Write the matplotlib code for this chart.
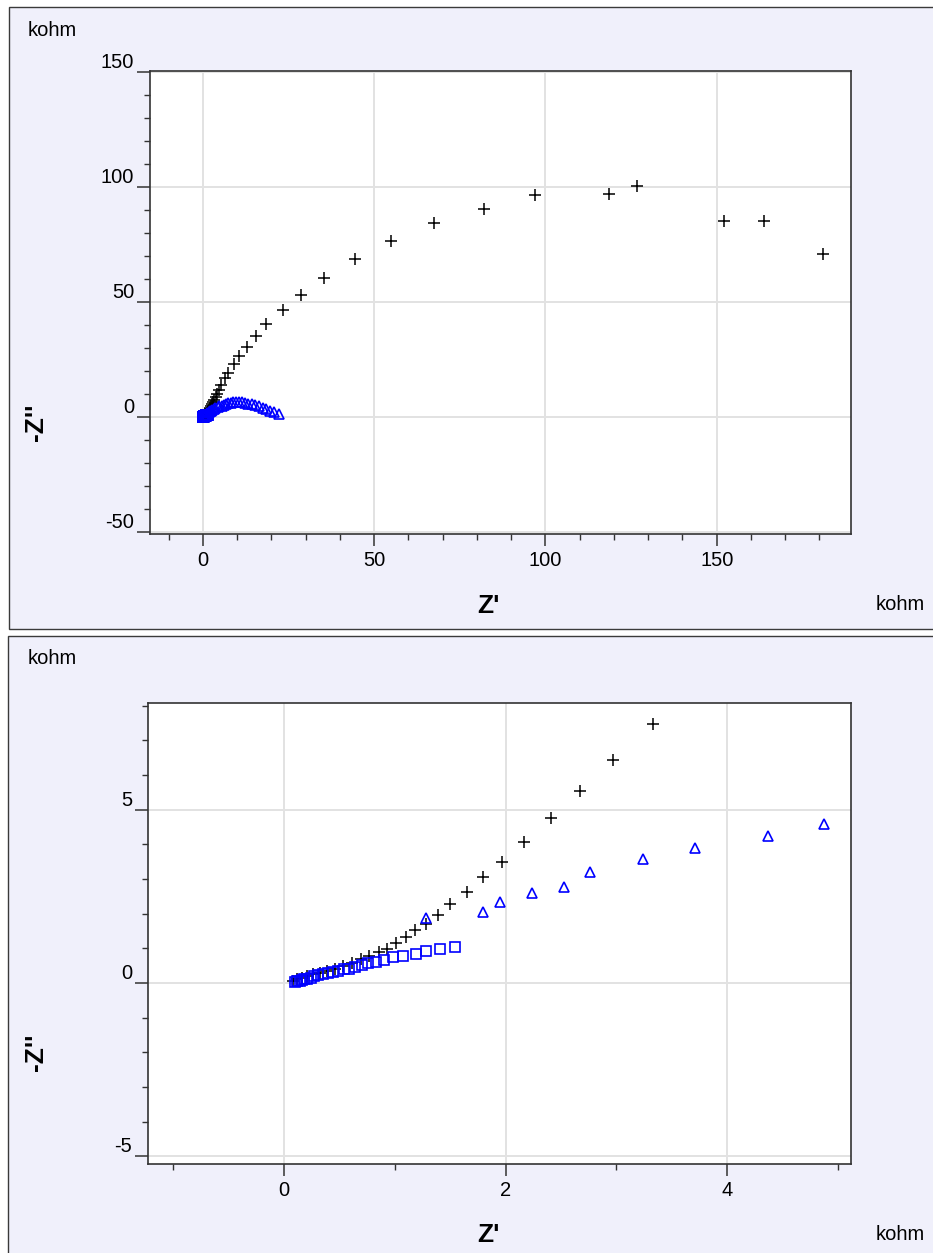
import matplotlib.pyplot as plt
from matplotlib.patches import Rectangle
from matplotlib.ticker import MultipleLocator

plt.rcParams['font.family'] = ['Liberation Sans', 'DejaVu Sans']
plt.rcParams['axes.unicode_minus'] = False

# black crosses: Z' and -Z'' in kohm
cross_re = [0.08, 0.12, 0.16, 0.21, 0.26, 0.32, 0.39, 0.46, 0.53, 0.61, 0.69, 0.77,
            0.86, 0.93, 1.01, 1.10, 1.18, 1.28, 1.39, 1.50, 1.65, 1.80, 1.97, 2.17,
            2.41, 2.67, 2.97, 3.33, 3.75, 4.25, 4.8, 5.4, 6.5, 7.5, 9.2, 10.7, 13.0,
            15.6, 18.5, 23.5, 28.8, 35.5, 44.3, 54.8, 67.4, 82.0, 96.9, 118.5, 126.7,
            152.2, 163.9, 181.1]
cross_im = [0.07, 0.12, 0.16, 0.20, 0.25, 0.30, 0.36, 0.42, 0.50, 0.59, 0.68, 0.78,
            0.89, 0.99, 1.15, 1.33, 1.53, 1.71, 1.97, 2.29, 2.64, 3.05, 3.50, 4.08,
            4.76, 5.54, 6.44, 7.48, 8.7, 10.1, 11.8, 13.8, 17.0, 19.3, 22.9, 26.5, 30.6,
            35.2, 40.3, 46.3, 53.2, 60.6, 68.8, 76.6, 84.4, 90.5, 96.5, 97.0, 100.4,
            85.3, 85.3, 71.0]

# blue squares
sq_re = [0.10, 0.12, 0.14, 0.16, 0.18, 0.21, 0.24, 0.27, 0.31, 0.35, 0.40, 0.44, 0.49,
         0.54, 0.59, 0.64, 0.70, 0.76, 0.83, 0.90, 0.98, 1.07, 1.19, 1.28, 1.41, 1.54]
sq_im = [0.03, 0.05, 0.07, 0.09, 0.11, 0.13, 0.16, 0.19, 0.22, 0.26, 0.30, 0.32, 0.36,
         0.40, 0.42, 0.47, 0.51, 0.57, 0.61, 0.66, 0.74, 0.78, 0.84, 0.92, 0.97, 1.05]

# blue triangles
tri_re = [1.28, 1.80, 1.95, 2.24, 2.53, 2.76, 3.24, 3.71, 4.37, 4.88, 5.5, 6.1, 6.7,
          7.4, 8.1, 8.9, 9.7, 10.5, 11.4, 12.3, 13.3, 14.3, 15.3, 16.4, 17.5, 18.6,
          19.7, 20.8, 22.3]
tri_im = [1.87, 2.06, 2.33, 2.60, 2.77, 3.19, 3.58, 3.91, 4.23, 4.59, 4.9, 5.3, 5.6,
          5.9, 6.1, 6.3, 6.4, 6.4, 6.3, 6.1, 5.8, 5.5, 5.1, 4.6, 4.0, 3.4, 2.7, 2.0, 1.4]

W, H = 933, 1253
BG = '#F0F0FB'

fig = plt.figure(figsize=(W / 100, H / 100), dpi=100)
fig.patch.set_facecolor('white')


def fx(px):
    return px / W


def fy(py):
    return 1 - py / H


def panel(top, bottom, left, ax_box, xlim, ylim, xt, yt, xminor, yminor, label_y):
    fig.patches.append(Rectangle((fx(left), fy(bottom)), 1.2, fy(top) - fy(bottom),
                                 transform=fig.transFigure, facecolor=BG,
                                 edgecolor='#3a3a3a', linewidth=1.0, zorder=-10))
    l, t, r, b = ax_box
    ax = fig.add_axes([fx(l), fy(b), fx(r) - fx(l), fy(t) - fy(b)])
    ax.set_facecolor('white')
    ax.plot(cross_re, cross_im, linestyle='none', marker='+', color='black',
            markersize=8, markeredgewidth=1.1)
    ax.plot(sq_re, sq_im, linestyle='none', marker='s', color='blue',
            markerfacecolor='none', markersize=6.5, markeredgewidth=1.2)
    ax.plot(tri_re, tri_im, linestyle='none', marker='^', color='blue',
            markerfacecolor='none', markersize=7, markeredgewidth=1.2)
    ax.set_xlim(xlim)
    ax.set_ylim(ylim)
    ax.set_xticks(xt)
    ax.set_yticks(yt)
    ax.xaxis.set_minor_locator(MultipleLocator(xminor))
    ax.yaxis.set_minor_locator(MultipleLocator(yminor))
    ax.grid(True, which='major', color='#E2E2E2', linewidth=1.4)
    ax.set_axisbelow(True)
    for s in ax.spines.values():
        s.set_color('#333333')
        s.set_linewidth(1.2)
    ax.tick_params(axis='x', which='major', direction='out', length=8.5, width=1.1,
                   color='#333333', labelsize=14.5, pad=4)
    ax.tick_params(axis='x', which='minor', direction='out', length=4.3, width=1.0,
                   color='#333333')
    ax.tick_params(axis='y', which='major', direction='out', length=9.5, width=1.1,
                   color='#333333', labelsize=14.5, pad=2)
    ax.tick_params(axis='y', which='minor', direction='out', length=4.3, width=1.0,
                   color='#333333')
    plt.setp(ax.get_yticklabels(), va='bottom')
    fig.text(fx(28), fy(top + 23), 'kohm', fontsize=14.5, ha='left', va='center')
    fig.text(fx(36), fy(label_y), "-Z''", fontsize=19, fontweight='bold',
             rotation=90, ha='center', va='center')
    return ax


# upper panel
panel(7, 629, 9, (150, 71, 851, 534), (-15.4, 189.2), (-50.9, 150.4),
      [0, 50, 100, 150], [-50, 0, 50, 100, 150], 10, 10, 422)
fig.text(fx(876), fy(604), 'kohm', fontsize=14.5, ha='left', va='center')
fig.text(fx(488), fy(606), "Z'", fontsize=19, fontweight='bold', ha='center', va='center')

# lower panel (zoom)
panel(636, 1300, 8, (148, 703, 851, 1164), (-1.23, 5.12), (-5.22, 8.08),
      [0, 2, 4], [-5, 0, 5], 1, 1, 1052)
fig.text(fx(876), fy(1234), 'kohm', fontsize=14.5, ha='left', va='center')
fig.text(fx(488), fy(1235), "Z'", fontsize=19, fontweight='bold', ha='center', va='center')

fig.savefig('out.png', dpi=100, facecolor='white')
